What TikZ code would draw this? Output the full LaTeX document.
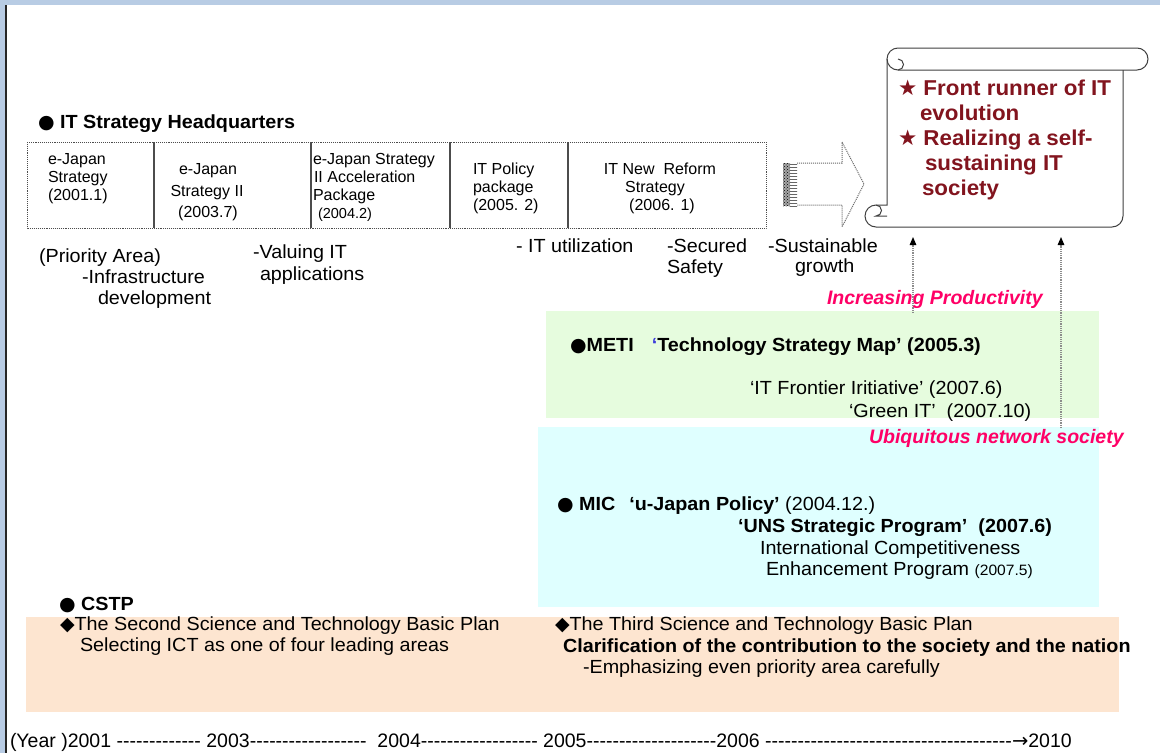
\documentclass[tikz,border=0pt]{standalone}
\usepackage{fontspec}
\setmainfont{Liberation Sans}[Ligatures=TeXOff]
\newfontfamily\widef{Liberation Sans}[Ligatures=TeXOff, FakeStretch=1.04]
\newfontfamily\symf{DejaVu Sans}
\usetikzlibrary{arrows.meta,patterns}
\newcommand\fsz[1]{\fontsize{#1pt}{#1pt}\selectfont}
\definecolor{topbar}{RGB}{184,204,228}
\definecolor{greenbg}{RGB}{230,252,222}
\definecolor{cyanbg}{RGB}{223,255,255}
\definecolor{peachbg}{RGB}{253,229,208}
\definecolor{magtext}{RGB}{255,0,102}
\definecolor{darkred}{RGB}{130,20,30}
\definecolor{quoteblue}{RGB}{60,60,220}
\begin{document}
\begin{tikzpicture}[x=1pt,y=-1pt,
  t/.style={anchor=base west, inner sep=0pt, outer sep=0pt},
  tc/.style={anchor=base, inner sep=0pt, outer sep=0pt},
  cell/.style={t, font=\fsz{16}},
  cellc/.style={tc, font=\fsz{16}},
  lbl/.style={t, font=\widef\fsz{19}},
  body/.style={t, font=\widef\fsz{19}},
  bbody/.style={t, font=\widef\bfseries\fsz{19}},
  goal/.style={t, font=\widef\bfseries\fsz{21.5}, text=darkred},
  slogan/.style={t, font=\bfseries\itshape\fsz{19.5}, text=magtext},
  divider/.style={black!70, line width=1.3pt},
  dotbox/.style={black!70, densely dotted, line width=0.9pt},
  scrollline/.style={black!75, line width=1pt},
  uparrow/.style={black!45, densely dotted, line width=1.2pt, -{Triangle[length=8pt,width=6.5pt,color=black]}}
]
\useasboundingbox (0,0) rectangle (1160,753);
\fill[white] (0,0) rectangle (1160,753);
% frame
\fill[topbar] (0,0) rectangle (1160,5);
\fill[topbar] (0,0) rectangle (5,753);
\draw[black!85, line width=1.6pt] (6.2,5) -- (6.2,753);

% coloured bands
\fill[greenbg] (546,311) rectangle (1099,418);
\fill[cyanbg] (538,427) rectangle (1099,607);
\fill[peachbg] (26,617) rectangle (1119,712);

% IT Strategy Headquarters
\node[t, font=\widef\bfseries\fsz{19}] (hq) at (38,128) {{\symf ●} IT Strategy Headquarters};
\draw[dotbox] (27,142) rectangle (766,228);
\foreach \xx in {154,311,450,568} \draw[divider] (\xx,142) -- (\xx,228);

\node[cell] (c1a) at (48,164) {e-Japan};
\node[cell] (c1b) at (48,182) {Strategy};
\node[cell] (c1c) at (48,200) {(2001.1)};
\node[cellc] (c2a) at (208,174) {e-Japan};
\node[cellc] (c2b) at (207,196) {Strategy II};
\node[cellc] (c2c) at (208,217) {(2003.7)};
\node[cell] (c3a) at (313,164) {e-Japan Strategy};
\node[cell] (c3b) at (314,182) {II Acceleration};
\node[cell] (c3c) at (313,200) {Package};
\node[t, font=\fsz{14.5}] (c3d) at (318,218) {(2004.2)};
\node[cell] (c4a) at (473,174) {IT Policy};
\node[cell] (c4b) at (473,192) {package};
\node[cell] (c4c) at (473,210) {(2005. 2)};
\node[cellc] (c5a) at (660,174) {IT New\ \ Reform};
\node[cellc] (c5b) at (655,192) {Strategy};
\node[cellc] (c5c) at (662,210) {(2006. 1)};

% labels under the strategies
\node[lbl] (l1) at (39,262) {(Priority Area)};
\node[lbl] (l2) at (82,283) {-Infrastructure};
\node[lbl] (l3) at (98,304) {development};
\node[lbl] (l4) at (253,258) {-Valuing IT};
\node[lbl] (l5) at (260,280) {applications};
\node[lbl] (l6) at (516,252) {- IT utilization};
\node[lbl] (l7) at (667,252) {-Secured};
\node[lbl] (l8) at (667,273) {Safety};
\node[lbl] (l9) at (768,252) {-Sustainable};
\node[lbl] (l10) at (795,272) {growth};

% dotted block arrow
\fill[black!35] (783,163) rectangle (790,206);
\fill[pattern=crosshatch dots, pattern color=black] (783,163) rectangle (790,206);
\fill[pattern=horizontal lines, pattern color=black!60] (790,163) rectangle (797,206);
\draw[black!60, densely dotted, line width=1pt]
  (797,163) -- (842,163) -- (842,142) -- (864,184) -- (842,227) -- (842,205) -- (797,205);

% scroll
\draw[scrollline] (898,48) -- (1137,48) arc[start angle=270, end angle=450, radius=11] -- (898,70)
  arc[start angle=90, end angle=270, radius=11];
\draw[scrollline] (898,70) arc[start angle=90, end angle=-90, radius=5.5];
\draw[scrollline] (887,59) -- (887,205) -- (876,205)
  arc[start angle=270, end angle=90, radius=11] -- (1112,227)
  arc[start angle=90, end angle=0, radius=11] -- (1123,70);
\draw[scrollline] (876,205) arc[start angle=-90, end angle=90, radius=5.5] -- (887,216);

\node[goal] (g1) at (898,95) {{\symf ★} Front runner of IT};
\node[goal] (g2) at (920,120) {evolution};
\node[goal] (g3) at (898,145) {{\symf ★} Realizing a self-};
\node[goal] (g4) at (925,170) {sustaining IT};
\node[goal] (g5) at (922,195) {society};

% METI
\node[slogan] (inc) at (827,304) {Increasing Productivity};
\node[bbody] (meti) at (570,351) {{\symf ●}METI\hspace{18pt}{\color{quoteblue}‘}Technology Strategy Map’ (2005.3)};
\node[body] (itf) at (750,394) {‘IT Frontier Iritiative’ (2007.6)};
\node[body] (git) at (849,417) {‘Green IT’\ \ (2007.10)};
\node[slogan] (ubq) at (869,443) {Ubiquitous network society};

% MIC
\node[body] (mic) at (557,510) {\bfseries{\symf ●} MIC\hspace{14pt}‘u-Japan Policy’\mdseries\ (2004.12.)};
\node[bbody] (uns) at (738,532) {‘UNS Strategic Program’\ \ (2007.6)};
\node[body] (icp) at (760,554) {International Competitiveness};
\node[body] (ehp) at (766,575) {Enhancement Program {\fsz{15}(2007.5)}};

% CSTP
\node[bbody] (cstp) at (59,610) {{\symf ●} CSTP};
\node[body] (sp1) at (60,630) {{\symf ◆}The Second Science and Technology Basic Plan};
\node[body] (sp2) at (80,651) {Selecting ICT as one of four leading areas};
\node[body] (tp1) at (555,630) {{\symf ◆}The Third Science and Technology Basic Plan};
\node[bbody] (tp2) at (563,652) {Clarification of the contribution to the society and the nation};
\node[body] (tp3) at (583,673) {-Emphasizing even priority area carefully};

% up arrows
\coordinate (u1s) at (913,313);
\coordinate (u1e) at (913,237);
\coordinate (u2s) at (1061,428);
\coordinate (u2e) at (1061,237);
\draw[uparrow] (u1s) -- (u1e);
\draw[uparrow] (u2s) -- (u2e);

% timeline
\node[t, font=\fsz{19.5}] (year) at (10,747) {(Year )2001 ------------- 2003------------------\ \ 2004------------------ 2005--------------------2006 --------------------------------------{\symf →}2010};
\end{tikzpicture}
\end{document}
